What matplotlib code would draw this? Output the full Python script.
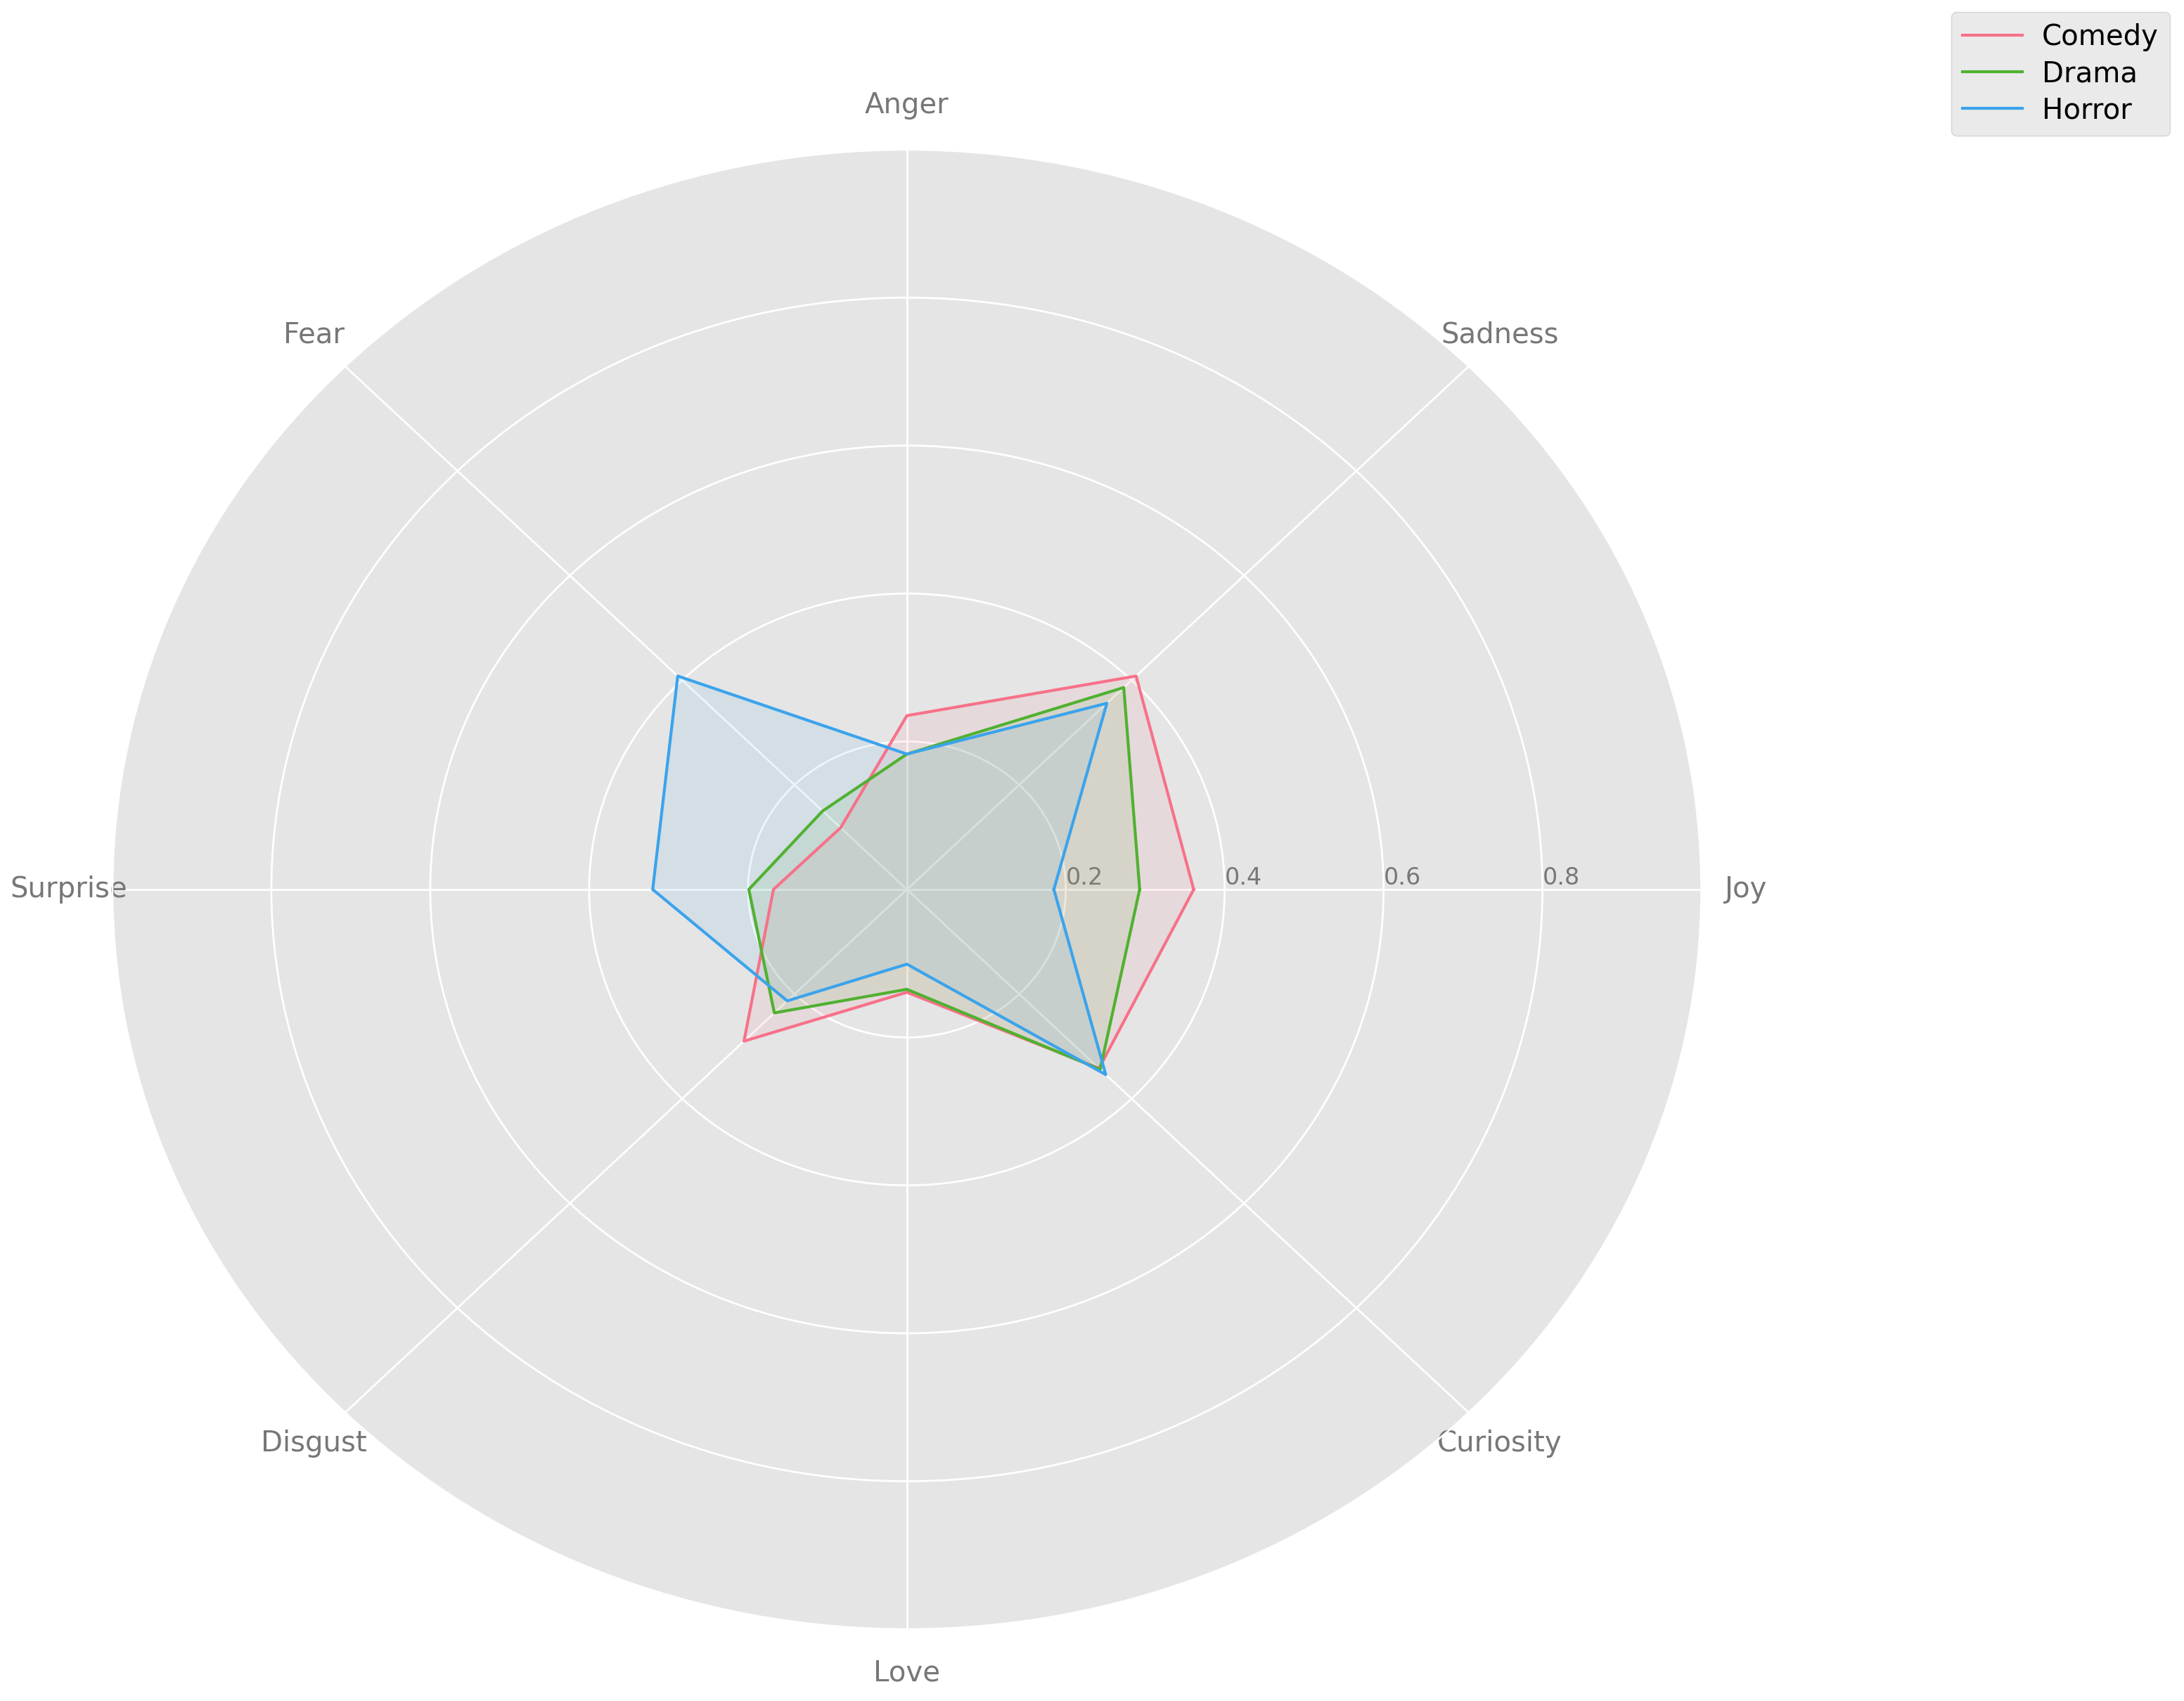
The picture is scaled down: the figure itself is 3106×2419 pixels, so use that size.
import numpy as np
import matplotlib
matplotlib.use("Agg")
import matplotlib.pyplot as plt

plt.style.use("ggplot")

categories = ["Joy", "Sadness", "Anger", "Fear", "Surprise", "Disgust", "Love", "Curiosity"]
genres = ["Comedy", "Drama", "Horror"]
comedy = [0.361, 0.408, 0.235, 0.118, 0.168, 0.290, 0.139, 0.342]
drama = [0.293, 0.386, 0.183, 0.150, 0.199, 0.236, 0.135, 0.344]
horror = [0.185, 0.356, 0.183, 0.408, 0.320, 0.213, 0.101, 0.354]
r_ticks = [0.2, 0.4, 0.6, 0.8]

colors = ["#f77189", "#50b131", "#3ba3ec"]

angles = np.linspace(0, 2 * np.pi, len(categories), endpoint=False)
theta = np.concatenate([angles, angles[:1]])

fig = plt.figure(figsize=(15.53, 12.095), dpi=200)
ax = fig.add_axes([0.0515, 0.0422, 0.7275, 0.8698], projection="polar")
ax.set_aspect("auto")

for name, vals, col in zip(genres, [comedy, drama, horror], colors):
    r = np.concatenate([vals, vals[:1]])
    ax.plot(theta, r, color=col, linewidth=1.5, label=name)
    ax.fill(theta, r, color=col, alpha=0.1)

ax.set_xticks(angles)
ax.set_xticklabels(categories, fontsize=14.5, color="#777777")
ax.tick_params(axis="x", pad=12)
ax.set_ylim(0, 1)
ax.set_yticks(r_ticks)
ax.set_yticklabels([str(t) for t in r_ticks], fontsize=12, color="#777777")
ax.set_rlabel_position(0)
ax.grid(color="white", linewidth=1.0)

fig.legend(loc="upper right", bbox_to_anchor=(0.9936, 0.993),
           bbox_transform=fig.transFigure, fontsize=14.5, borderaxespad=0,
           handlelength=2.1, handletextpad=0.7, borderpad=0.4, labelspacing=0.3)

fig.savefig("out.png", dpi=200)
